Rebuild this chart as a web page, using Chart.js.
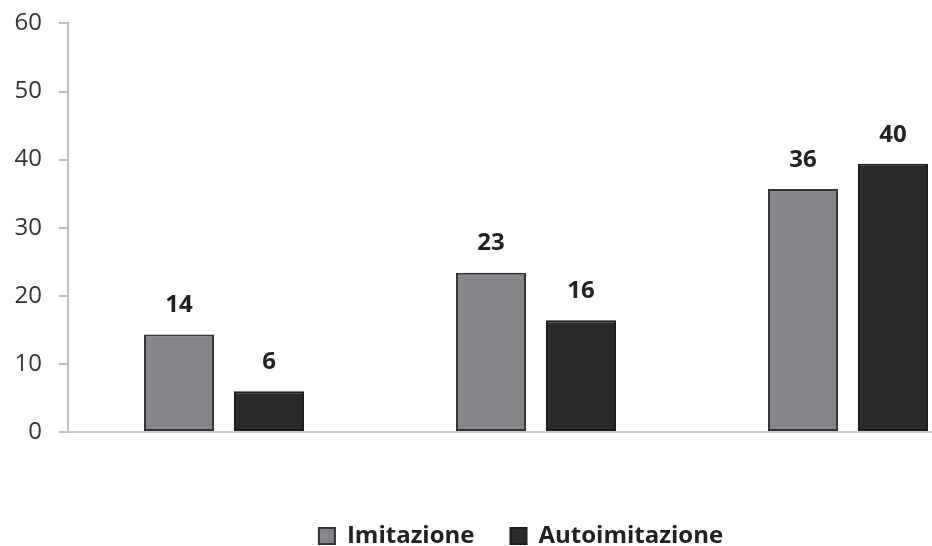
<!DOCTYPE html>
<html lang="it">
<head>
    <meta charset="UTF-8">
    <title>Imitazione e autoimitazione</title>
    <style>
        body {
            margin: 0;
            padding: 0;
            background-color: #fff;
            overflow: hidden;
            width: 932px;
            height: 546px;
        }
        #chart-box {
            width: 1042px;
            height: 566px;
            margin-top: -8px;
        }
    </style>
</head>
<body>
    <div id="chart-box">
        <canvas id="bar-chart" width="1042" height="566"></canvas>
    </div>

    <script src="https://cdn.jsdelivr.net/npm/chart.js"></script>
    <script>
        // dati
        var categorie = ['', '', ''];
        var imitazione = [14.3, 23.4, 35.7];
        var autoimitazione = [6, 16.4, 39.4];
        var etichetteImitazione = ['14', '23', '36'];
        var etichetteAutoimitazione = ['6', '16', '40'];
        var tickY = [0, 10, 20, 30, 40, 50, 60];

        // etichette sopra le barre
        var etichettePlugin = {
            id: 'etichette',
            afterDatasetsDraw: function(chart) {
                var ctx = chart.ctx;
                var testi = [etichetteImitazione, etichetteAutoimitazione];
                ctx.save();
                ctx.font = 'bold 24px "Open Sans"';
                ctx.fillStyle = '#222';
                ctx.textAlign = 'center';
                ctx.textBaseline = 'middle';
                chart.data.datasets.forEach(function(ds, i) {
                    chart.getDatasetMeta(i).data.forEach(function(bar, j) {
                        ctx.fillText(testi[i][j], bar.x, bar.y - 29);
                    });
                });
                ctx.restore();
            }
        };

        var ctxBar = document.getElementById('bar-chart').getContext('2d');
        new Chart(ctxBar, {
            type: 'bar',
            data: {
                labels: categorie,
                datasets: [{
                    label: 'Imitazione',
                    data: imitazione,
                    backgroundColor: '#87878b',
                    borderColor: '#333',
                    borderWidth: 2,
                    borderSkipped: false
                }, {
                    label: 'Autoimitazione',
                    data: autoimitazione,
                    backgroundColor: '#2b292a',
                    borderColor: '#1e1e1e',
                    borderWidth: 2,
                    borderSkipped: false
                }]
            },
            options: {
                responsive: false,
                animation: false,
                categoryPercentage: 0.577,
                barPercentage: 0.778,
                layout: {
                    padding: { top: 0, right: 0, left: 0, bottom: 0 }
                },
                plugins: {
                    tooltip: { enabled: false },
                    legend: {
                        position: 'bottom',
                        labels: {
                            color: '#222',
                            font: { family: 'Open Sans', size: 24, weight: 'bold' },
                            boxWidth: 16,
                            boxHeight: 16,
                            padding: 36
                        }
                    }
                },
                scales: {
                    x: {
                        grid: { display: false },
                        border: { display: true, color: '#c8c8cc', width: 2 },
                        ticks: { display: false },
                        afterFit: function(s) { s.height = 56; }
                    },
                    y: {
                        min: 0,
                        max: 60,
                        afterBuildTicks: function(s) {
                            s.ticks = tickY.map(function(v) { return { value: v }; });
                        },
                        afterFit: function(s) { s.width = 68; },
                        grid: {
                            drawOnChartArea: false,
                            drawTicks: true,
                            tickLength: 9,
                            tickColor: '#c0c0c4',
                            lineWidth: 2
                        },
                        border: { display: true, color: '#c0c0c4', width: 2 },
                        ticks: {
                            color: '#333',
                            padding: 17,
                            font: { family: 'Open Sans', size: 24 }
                        }
                    },
                    // asse vuoto a destra, solo per lo spazio
                    yVuoto: {
                        position: 'right',
                        display: true,
                        min: 0,
                        max: 60,
                        grid: { display: false },
                        border: { display: false },
                        ticks: { display: false },
                        afterFit: function(s) { s.width = 38; }
                    }
                }
            },
            plugins: [etichettePlugin]
        });
    </script>
</body>
</html>
